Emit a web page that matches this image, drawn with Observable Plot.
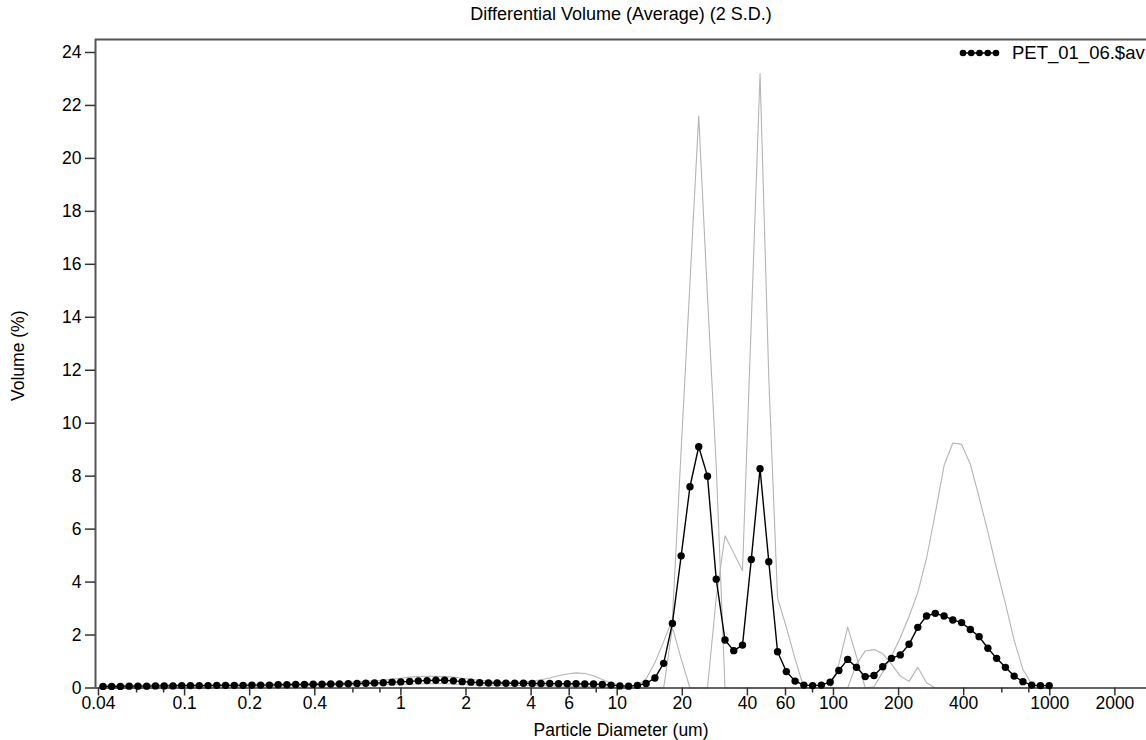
<!DOCTYPE html>
<html><head><meta charset="utf-8">
<script src="https://cdn.jsdelivr.net/npm/d3@7"></script>
<script src="https://cdn.jsdelivr.net/npm/@observablehq/plot@0.6"></script>
<style>
html,body{margin:0;padding:0;background:#fff;overflow:hidden;}
#wrap{position:relative;width:1146px;height:740px;font-family:"Liberation Sans",Arial,sans-serif;}
#legend{position:absolute;left:958px;top:43px;white-space:nowrap;display:flex;align-items:center;font-size:18.5px;line-height:20px;color:#000;}
#legend span{margin-left:12px;}
</style></head><body><div id="wrap"><div id="chart"></div><div id="legend"></div></div>
<script>
// channel centre diameters (um)
const diameters = [
0.04194,0.04600,0.05050,0.05544,0.06086,0.06681,0.07334,0.08051,0.08839,0.09703,
0.1065,0.1169,0.1284,0.1409,0.1547,0.1698,0.1864,0.2047,0.2247,0.2466,
0.2708,0.2972,0.3263,0.3582,0.3932,0.4317,0.4739,0.5202,0.5711,0.6269,
0.6882,0.7555,0.8292,0.9102,0.9991,1.097,1.204,1.322,1.451,1.593,
1.749,1.920,2.107,2.313,2.539,2.788,3.060,3.359,3.687,4.048,
4.443,4.878,5.355,5.878,6.452,7.083,7.776,8.536,9.370,10.29,
11.29,12.40,13.61,14.94,16.40,18.00,19.76,21.70,23.82,26.15,
28.70,31.51,34.59,37.97,41.68,45.76,50.23,55.14,60.53,66.45,
72.95,80.08,87.91,96.50,105.9,116.3,127.7,140.2,153.9,168.9,
185.4,203.6,223.5,245.3,269.3,295.6,324.5,356.2,391.1,429.3,
471.3,517.4,567.9,623.5,684.4,751.3,824.8,905.4,993.7];
// average volume (%)
const average = [
0.06,0.06,0.06,0.07,0.07,0.07,0.08,0.08,0.08,0.09,
0.09,0.09,0.09,0.10,0.10,0.10,0.10,0.11,0.11,0.11,
0.12,0.12,0.13,0.13,0.14,0.14,0.15,0.15,0.16,0.17,
0.18,0.19,0.20,0.22,0.23,0.25,0.27,0.28,0.29,0.29,
0.27,0.24,0.22,0.20,0.19,0.19,0.18,0.18,0.18,0.17,
0.17,0.17,0.16,0.16,0.16,0.15,0.15,0.13,0.11,0.08,
0.07,0.10,0.17,0.38,0.93,2.44,4.99,7.60,9.11,8.00,
4.11,1.81,1.41,1.62,4.85,8.28,4.77,1.37,0.62,0.26,
0.11,0.09,0.11,0.22,0.66,1.08,0.78,0.43,0.47,0.80,
1.12,1.25,1.65,2.29,2.72,2.82,2.72,2.57,2.47,2.21,
1.94,1.50,1.12,0.78,0.45,0.24,0.11,0.09,0.09];
// grey S.D. curve 1
const sdCurveA = [
0.10,0.10,0.10,0.11,0.11,0.11,0.12,0.12,0.12,0.13,
0.13,0.13,0.13,0.14,0.14,0.14,0.14,0.15,0.15,0.15,
0.16,0.16,0.17,0.17,0.18,0.18,0.19,0.20,0.21,0.23,
0.25,0.27,0.30,0.33,0.37,0.41,0.43,0.44,0.44,0.43,
0.41,0.37,0.33,0.29,0.26,0.24,0.23,0.22,0.23,0.26,
0.31,0.38,0.46,0.53,0.57,0.55,0.46,0.32,0.18,0.10,
0.07,0.10,0.35,0.95,1.75,2.60,9.00,15.30,21.60,14.80,
8.40,0,0,0,0,0,0,0,0,0,
0,0,0,0,0.90,2.30,1.20,0,0.05,0.60,
1.20,1.90,2.70,3.60,4.90,6.60,8.40,9.25,9.20,8.45,
7.20,5.90,4.50,3.20,1.80,0.70,0.15,0,0];
// grey S.D. curve 2
const sdCurveB = [
0.02,0.02,0.02,0.03,0.03,0.03,0.03,0.04,0.04,0.04,
0.04,0.05,0.05,0.05,0.05,0.06,0.06,0.06,0.07,0.07,
0.07,0.08,0.08,0.08,0.09,0.09,0.10,0.10,0.11,0.11,
0.12,0.12,0.13,0.14,0.14,0.15,0.15,0.16,0.16,0.16,
0.15,0.13,0.12,0.11,0.11,0.11,0.10,0.10,0.10,0.09,
0.09,0.08,0.08,0.07,0.06,0.06,0.05,0.04,0.03,0.02,
0,0,0,0,0,2.30,1.10,0,0,0,
3.40,5.75,5.10,4.43,13.80,23.20,11.70,3.40,2.30,1.10,
0,0,0,0,0,0,0.90,1.40,1.45,1.30,
0.90,0.45,0.25,0.78,0.20,0,0,0,0,0,
0,0,0,0,0,0,0,0,0];
const majorTicks = [0.04,0.1,0.2,0.4,1,2,4,6,10,20,40,60,100,200,400,1000,2000];
const minorTicks = [0.06,0.08,0.6,0.8,8,80,600,800];
const yTicks = [0,2,4,6,8,10,12,14,16,18,20,22,24];
const title = "Differential Volume (Average) (2 S.D.)";
const xLabel = "Particle Diameter (um)";
const yLabel = "Volume (%)";
const seriesName = "PET_01_06.$av";

const rows = diameters.map((d, i) => ({d, avg: average[i], a: sdCurveA[i], b: sdCurveB[i]}));
const X0 = 0.03874, X1 = 2800, Y1 = 24.49;
const font = '"Liberation Sans", Arial, sans-serif';
const H = 740, MT = 39, MB = 52.5;
const frameH = H - MT - MB;

const chart = Plot.plot({
  width: 1146, height: H,
  marginTop: MT, marginBottom: MB, marginLeft: 95, marginRight: 0,
  style: {fontFamily: font, fontSize: "17.5px", color: "#000", background: "#fff", overflow: "visible"},
  x: {type: "log", domain: [X0, X1], axis: null},
  y: {domain: [0, Y1], axis: null},
  marks: [
    Plot.line(rows, {x: "d", y: "a", stroke: "#b5b5b5", strokeWidth: 1.1}),
    Plot.line(rows, {x: "d", y: "b", stroke: "#b5b5b5", strokeWidth: 1.1}),
    Plot.ruleY([0], {stroke: "#333", strokeWidth: 1.5}),
    Plot.ruleY([Y1], {stroke: "#555", strokeWidth: 2}),
    Plot.ruleX([X0], {stroke: "#555", strokeWidth: 2}),
    // x ticks drawn below the frame
    Plot.ruleX(majorTicks, {x: d => d, insetTop: frameH, insetBottom: -8, stroke: "#333", strokeWidth: 1.5}),
    Plot.ruleX(minorTicks, {x: d => d, insetTop: frameH, insetBottom: -5, stroke: "#333", strokeWidth: 1.5}),
    Plot.text(majorTicks, {x: d => d, text: d => String(d), frameAnchor: "bottom", dy: 15, lineAnchor: "middle", textAnchor: "middle"}),
    Plot.axisY(yTicks, {tickSize: 10, tickPadding: 4, tickFormat: d => String(d), label: null, stroke: "#333", strokeWidth: 1.5}),
    Plot.line(rows, {x: "d", y: "avg", stroke: "#000", strokeWidth: 1.4}),
    Plot.dot(rows, {x: "d", y: "avg", r: 3.7, fill: "#000"}),
    Plot.text([title], {text: d => d, frameAnchor: "top", dy: -25, textAnchor: "middle", lineAnchor: "middle", fontSize: 18}),
    Plot.text([xLabel], {text: d => d, frameAnchor: "bottom", dy: 42.5, textAnchor: "middle", lineAnchor: "middle"}),
    Plot.text([yLabel], {text: d => d, frameAnchor: "left", dx: -77, dy: -8, rotate: -90, textAnchor: "middle", lineAnchor: "middle"})
  ]
});
document.getElementById("chart").appendChild(chart);

// legend
const lg = document.getElementById("legend");
const ns = "http://www.w3.org/2000/svg";
const sw = document.createElementNS(ns, "svg");
sw.setAttribute("width", 42); sw.setAttribute("height", 12);
const ln = document.createElementNS(ns, "line");
ln.setAttribute("x1", 5); ln.setAttribute("x2", 38); ln.setAttribute("y1", 6); ln.setAttribute("y2", 6);
ln.setAttribute("stroke", "#000"); ln.setAttribute("stroke-width", 1.4);
sw.appendChild(ln);
[0, 1, 2, 3, 4].forEach(k => {
  const c = document.createElementNS(ns, "circle");
  c.setAttribute("cx", 5 + k * 8.25); c.setAttribute("cy", 6); c.setAttribute("r", 3.3); c.setAttribute("fill", "#000");
  sw.appendChild(c);
});
lg.appendChild(sw);
const sp = document.createElement("span");
sp.textContent = seriesName;
lg.appendChild(sp);
</script></body></html>
